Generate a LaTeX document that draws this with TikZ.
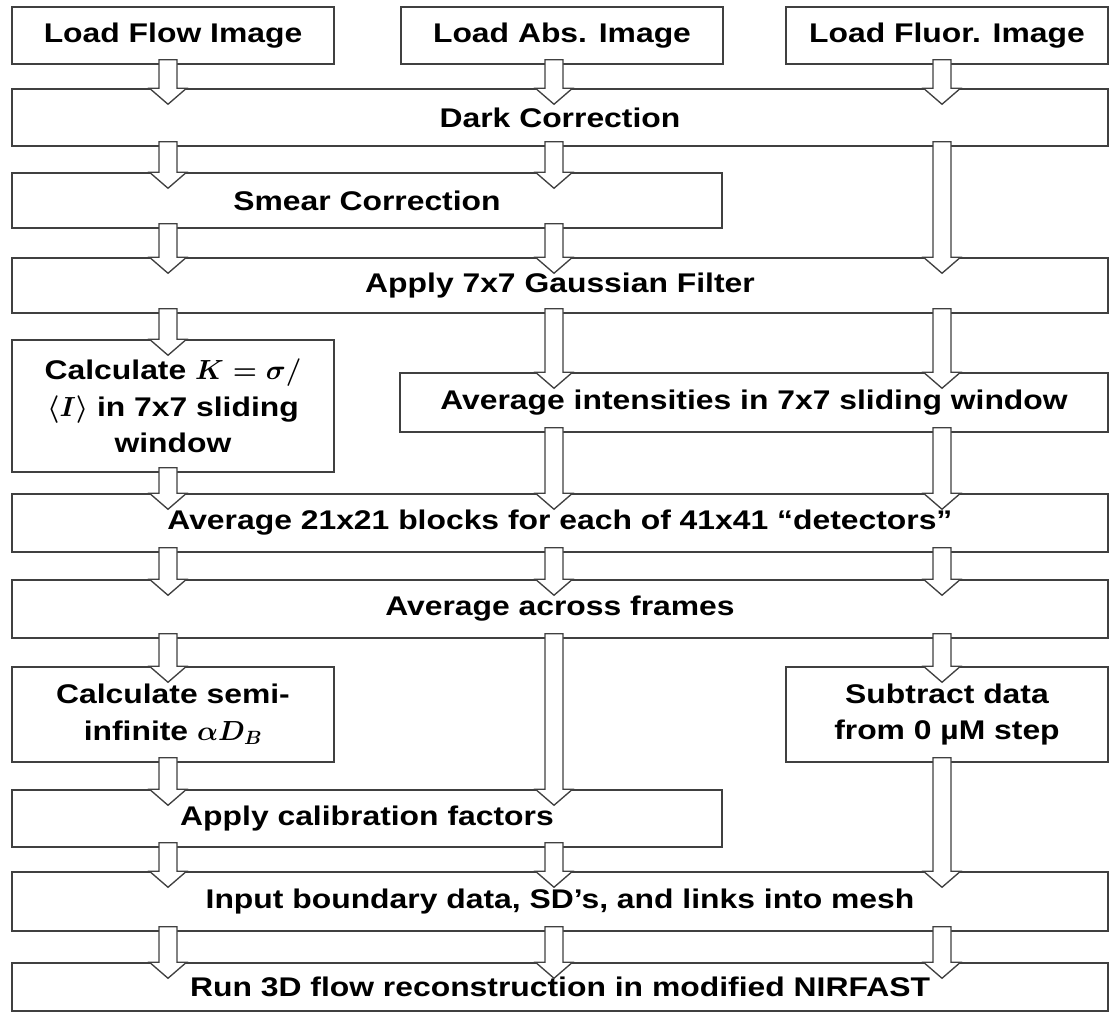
\documentclass[tikz,border=0pt]{standalone}
\usepackage{amsmath}
\usepackage{fontspec}
\setmainfont{Liberation Sans}[FakeStretch=1.18]
\usetikzlibrary{calc}

\begin{document}
\begin{tikzpicture}[x=0.75pt,y=-0.75pt,
  stage/.style={draw=black!75,line width=1.1pt,fill=white,inner sep=0pt,align=center,
    font=\fontsize{20.25pt}{27.5pt}\selectfont\bfseries\boldmath},
  barrow/.style={draw=black!75,line width=1pt,fill=white,line join=miter}]
\useasboundingbox (0,0) rectangle (1110,1016);
% arrow columns
\coordinate (cL) at (168,0);
\coordinate (cM) at (554,0);
\coordinate (cR) at (942,0);
% input images
\node (flow) at (173,35.5) [stage,minimum width=241.5pt,minimum height=42.75pt] {Load Flow Image};
\node (abs) at (562,35.5) [stage,minimum width=241.5pt,minimum height=42.75pt] {Load Abs. Image};
\node (fluor) at (947,35.5) [stage,minimum width=241.5pt,minimum height=42.75pt] {Load Fluor. Image};
% processing steps
\node (dark) at (560,117.5) [stage,minimum width=822pt,minimum height=42.75pt] {Dark Correction};
\node (smear) at (367,200.5) [stage,minimum width=532.5pt,minimum height=41.25pt] {Smear Correction};
\node (gauss) at (560,285.5) [stage,minimum width=822pt,minimum height=41.25pt] {Apply 7x7 Gaussian Filter};
\node (calck) at (173,406) [stage,minimum width=241.5pt,minimum height=99pt] {Calculate $K=\sigma/$\\$\langle I\rangle$ in 7x7 sliding\\window};
\node (avgint) at (754,402.5) [stage,minimum width=531pt,minimum height=44.25pt] {Average intensities in 7x7 sliding window};
\node (avg21) at (560,523) [stage,minimum width=822pt,minimum height=43.5pt] {Average 21x21 blocks for each of 41x41 “detectors”};
\node (frames) at (560,609) [stage,minimum width=822pt,minimum height=43.5pt] {Average across frames};
\node (semi) at (173,714.5) [stage,minimum width=241.5pt,minimum height=71.25pt] {Calculate semi-\\infinite $\alpha D_B$};
\node (subtr) at (947,714.5) [stage,minimum width=241.5pt,minimum height=71.25pt] {Subtract data\\from 0 µM step};
\node (calib) at (367,818.5) [stage,minimum width=532.5pt,minimum height=42.75pt] {Apply calibration factors};
\node (input) at (560,901.5) [stage,minimum width=822pt,minimum height=44.25pt] {Input boundary data, SD’s, and links into mesh};
\node (run) at (560,987) [stage,minimum width=822pt,minimum height=36pt] {Run 3D flow reconstruction in modified NIRFAST};
% block arrows
\foreach \col/\src/\dst in {L/flow/dark,L/dark/smear,L/smear/gauss,L/gauss/calck,L/calck/avg21,
    L/avg21/frames,L/frames/semi,L/semi/calib,L/calib/input,L/input/run,
    M/abs/dark,M/dark/smear,M/smear/gauss,M/gauss/avgint,M/avgint/avg21,
    M/avg21/frames,M/frames/calib,M/calib/input,M/input/run,
    R/fluor/dark,R/dark/gauss,R/gauss/avgint,R/avgint/avg21,R/avg21/frames,
    R/frames/subtr,R/subtr/input,R/input/run} {
\draw[barrow] ($(c\col |- \src.south)+(-9,-5)$) -- ($(c\col |- \dst.north)+(-9,0)$)
  -- ($(c\col |- \dst.north)+(-18.5,0)$) -- ($(c\col |- \dst.north)+(0,16)$)
  -- ($(c\col |- \dst.north)+(18.5,0)$) -- ($(c\col |- \dst.north)+(9,0)$)
  -- ($(c\col |- \src.south)+(9,-5)$) -- cycle;
}
\end{tikzpicture}
\end{document}
